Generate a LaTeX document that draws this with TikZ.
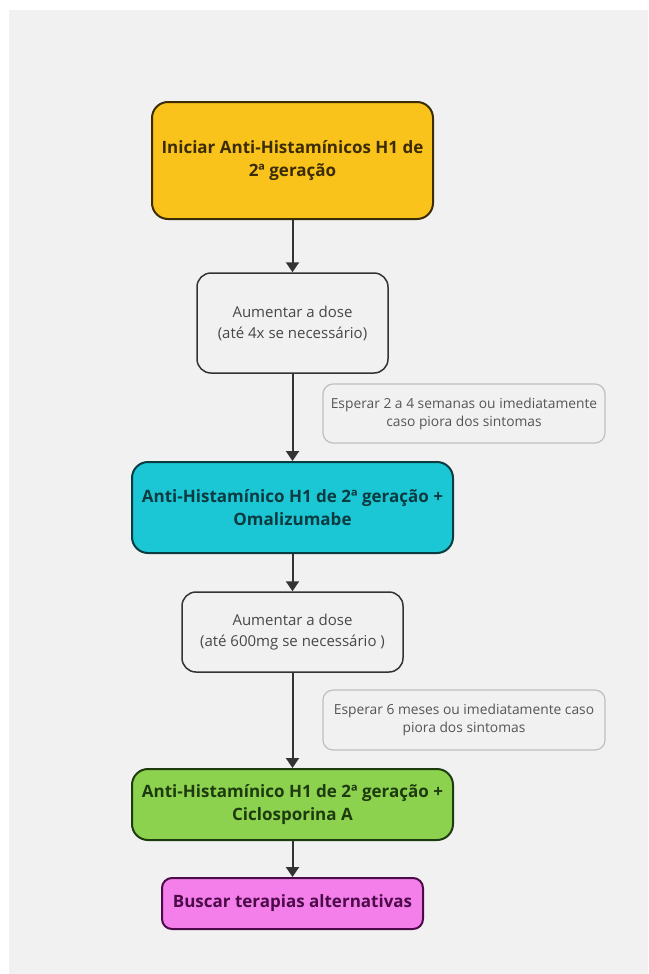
\documentclass[tikz,border=0pt]{standalone}
\usepackage{fontspec}
\setmainfont{Open Sans}
\usepackage{tikz}
\usetikzlibrary{arrows.meta, positioning}
\definecolor{bggrey}{HTML}{F1F1F1}
\definecolor{flowdark}{HTML}{333333}
\definecolor{yellowfill}{HTML}{F9C31B}
\definecolor{yellowtext}{HTML}{3B2C06}
\definecolor{cyanfill}{HTML}{1BC7D5}
\definecolor{cyantext}{HTML}{0B3A40}
\definecolor{greenfill}{HTML}{8CD24F}
\definecolor{greentext}{HTML}{1E3A0F}
\definecolor{pinkfill}{HTML}{F47FEB}
\definecolor{pinktext}{HTML}{4B0B49}
\definecolor{notetext}{HTML}{555555}

\begin{document}
\begin{tikzpicture}[x=1pt, y=-1pt, >={Triangle[width=13pt, length=10pt]},
    mainbox/.style={draw, line width=2pt, rounded corners=16pt, inner sep=0pt, align=center,
        font=\fontsize{17}{23}\selectfont\bfseries},
    dosebox/.style={draw=flowdark, fill=bggrey, line width=1.5pt, rounded corners=14pt, inner sep=0pt,
        align=center, text=flowdark!90, font=\fontsize{15}{21}\selectfont},
    notebox/.style={draw=black!25, line width=1.2pt, rounded corners=10pt, inner sep=0pt,
        align=center, text=notetext, font=\fontsize{13.8}{18}\selectfont},
    flow/.style={->, line width=2pt, draw=flowdark}]
\useasboundingbox (0,0) rectangle (648,974);
\fill[bggrey] (9,10) rectangle (648,974);
% main steps of the treatment
\node[mainbox, fill=yellowfill, draw=yellowtext, text=yellowtext, minimum width=281pt, minimum height=117pt]
    (start) at (292.5,160.5) {Iniciar Anti-Histamínicos H1 de\\ 2ª geração};
\node[dosebox, minimum width=191pt, minimum height=100pt]
    (dose1) at (292.5,323) {Aumentar a dose\\ (até 4x se necessário)};
\node[mainbox, fill=cyanfill, draw=cyantext, text=cyantext, minimum width=321pt, minimum height=91pt]
    (omali) at (292.5,507.5) {Anti-Histamínico H1 de 2ª geração +\\ Omalizumabe};
\node[dosebox, minimum width=221pt, minimum height=80pt]
    (dose2) at (292.5,632) {Aumentar a dose\\ (até 600mg se necessário )};
\node[mainbox, fill=greenfill, draw=greentext, text=greentext, minimum width=321pt, minimum height=71pt]
    (ciclo) at (292.5,804.5) {Anti-Histamínico H1 de 2ª geração +\\ Ciclosporina A};
\node[mainbox, fill=pinkfill, draw=pinktext, text=pinktext, rounded corners=10pt, minimum width=261pt, minimum height=51pt]
    (alter) at (292.5,903.5) {Buscar terapias alternativas};
% waiting notes beside the long arrows
\node[notebox, minimum width=282pt, minimum height=59pt]
    (wait1) at (464,413.5) {Esperar 2 a 4 semanas ou imediatamente\\ caso piora dos sintomas};
\node[notebox, minimum width=282pt, minimum height=60pt]
    (wait2) at (464,720) {Esperar 6 meses ou imediatamente caso\\ piora dos sintomas};
\draw[flow] (start) -- (dose1);
\draw[flow] (dose1) -- (omali);
\draw[flow] (omali) -- (dose2);
\draw[flow] (dose2) -- (ciclo);
\draw[flow] (ciclo) -- (alter);
\end{tikzpicture}
\end{document}
